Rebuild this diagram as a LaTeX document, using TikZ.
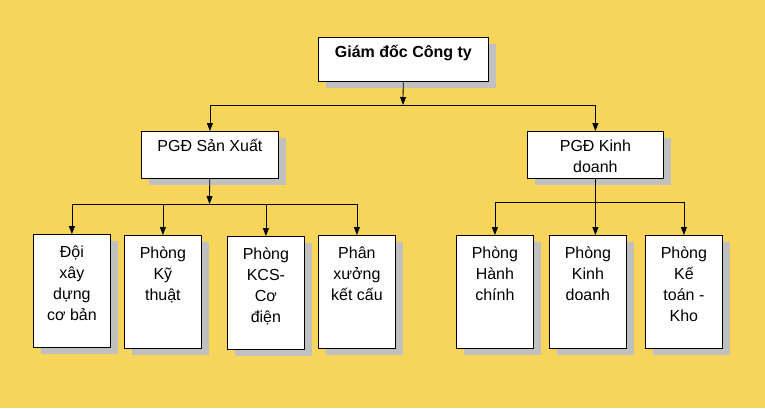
\documentclass[tikz,border=0pt]{standalone}
\usepackage{fontspec}
\setmainfont{Liberation Sans}
\usetikzlibrary{arrows.meta,shadows}

\definecolor{orgbg}{RGB}{247,212,90}
\definecolor{orgshade}{RGB}{192,192,192}
\newcommand{\orgstrut}{\rule{0pt}{15pt}}

\tikzset{
  orgbox/.style={draw, line width=0.8pt, fill=white, anchor=north west, inner sep=0pt,
    drop shadow={shadow xshift=8pt, shadow yshift=-7pt, fill=orgshade, opacity=1}},
  orgunit/.style={orgbox, minimum width=77pt, minimum height=113pt},
  orgtxt/.style={anchor=north, align=center, inner sep=0pt, yshift=-8pt, font=\fontsize{16}{21}\selectfont},
  orghead/.style={anchor=north, align=center, inner sep=0pt, yshift=-5.5pt, font=\fontsize{16}{21}\selectfont},
  orgarr/.style={-{Triangle[length=8pt, width=6pt]}, line width=0.8pt},
  orgline/.style={line width=0.8pt}
}

\begin{document}
\begin{tikzpicture}[x=1pt,y=-1pt]
        \fill[orgbg] (0,0) rectangle (765,408);

        % director and deputies
        \node[orgbox, minimum width=170pt, minimum height=44pt,
          label={[orghead, font=\fontsize{16}{21}\selectfont\bfseries]north:{\orgstrut Giám đốc Công ty}}] (gd) at (318,37) {};
        \node[orgbox, minimum width=137pt, minimum height=47pt,
          label={[orghead]north:{\orgstrut PGĐ Sản Xuất}}] (sx) at (141,131) {};
        \node[orgbox, minimum width=136pt, minimum height=47pt,
          label={[orghead]north:{\orgstrut PGĐ Kinh\\doanh}}] (kd) at (527,131) {};

        % production units
        \node[orgunit, label={[orgtxt]north:{\orgstrut Đội\\xây\\dựng\\cơ bản}}] (sx1) at (33,234) {};
        \node[orgunit, label={[orgtxt]north:{\orgstrut Phòng\\Kỹ\\thuật}}] (sx2) at (124,235) {};
        \node[orgunit, label={[orgtxt]north:{\orgstrut Phòng\\KCS-\\Cơ\\điện}}] (sx3) at (227,236) {};
        \node[orgunit, label={[orgtxt]north:{\orgstrut Phân\\xưởng\\kết cấu}}] (sx4) at (318,235) {};

        % business units
        \node[orgunit, label={[orgtxt]north:{\orgstrut Phòng\\Hành\\chính}}] (kd1) at (456,235) {};
        \node[orgunit, label={[orgtxt]north:{\orgstrut Phòng\\Kinh\\doanh}}] (kd2) at (549,235) {};
        \node[orgunit, label={[orgtxt]north:{\orgstrut Phòng\\Kế\\toán -\\Kho}}] (kd3) at (645,235) {};

        % connectors
        \coordinate (busA) at (403,105);
        \coordinate (busB) at (209.5,204);
        \coordinate (busC) at (595,202);

        \draw[orgarr] (gd) -- (busA);
        \draw[orgline] (sx.north |- busA) -- (kd.north |- busA);
        \draw[orgarr] (sx.north |- busA) -- (sx);
        \draw[orgarr] (kd.north |- busA) -- (kd);

        \draw[orgarr] (sx) -- (busB);
        \draw[orgline] (sx1.north |- busB) -- (sx4.north |- busB);
        \foreach \n in {sx1,sx2,sx3,sx4}
          \draw[orgarr] (\n.north |- busB) -- (\n);

        \draw[orgarr] (kd.south) -- (kd.south |- kd2.north);
        \draw[orgline] (kd1.north |- busC) -- (kd3.north |- busC);
        \draw[orgarr] (kd1.north |- busC) -- (kd1);
        \draw[orgarr] (kd3.north |- busC) -- (kd3);
    \end{tikzpicture}
\end{document}
